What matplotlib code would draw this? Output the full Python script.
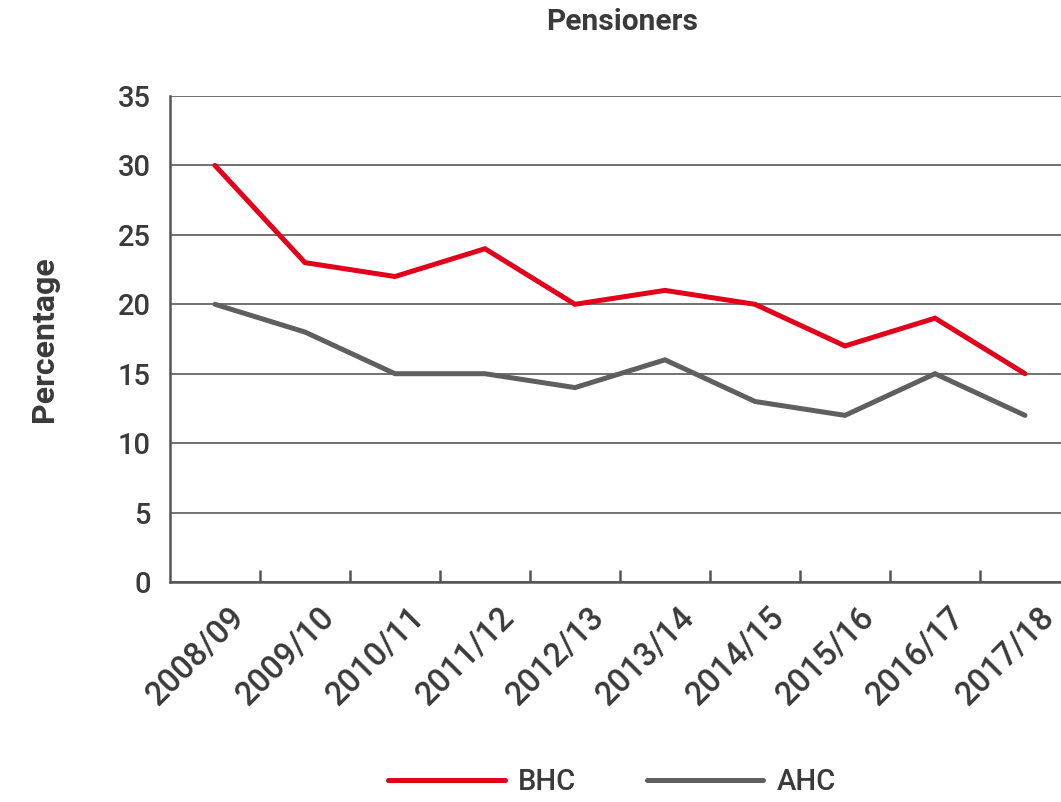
import matplotlib
matplotlib.use("Agg")
import matplotlib.pyplot as plt
import numpy as np

years = ["2008/09", "2009/10", "2010/11", "2011/12", "2012/13",
         "2013/14", "2014/15", "2015/16", "2016/17", "2017/18"]
bhc = [30, 23, 22, 24, 20, 21, 20, 17, 19, 15]
ahc = [20, 18, 15, 15, 14, 16, 13, 12, 15, 12]

plt.rcParams['font.family'] = ['Roboto', 'DejaVu Sans']
txt = '#3a3a3a'

fig = plt.figure(figsize=(10.61, 8.02), dpi=100)
ax = fig.add_axes([170/1061, 1-582/802, 900/1061, (582-96)/802])

x = np.arange(len(years))
l1, = ax.plot(x, bhc, color='#e2001a', lw=3.6, solid_capstyle='round', solid_joinstyle='miter', zorder=3)
l2, = ax.plot(x, ahc, color='#5f5f5f', lw=3.6, solid_capstyle='round', solid_joinstyle='miter', zorder=3)

ax.set_xlim(-0.5, len(years) - 0.5)
ax.set_ylim(0, 35)
ax.set_yticks(range(0, 36, 5))
ax.yaxis.grid(True, color='#4a4a4a', lw=1.1)
ax.set_axisbelow(True)
for s in ['top', 'right']:
    ax.spines[s].set_visible(False)
for s in ['left', 'bottom']:
    ax.spines[s].set_color('#555555')
    ax.spines[s].set_linewidth(1.8)

ax.tick_params(axis='y', length=0, pad=14, labelsize=21, labelcolor=txt)
for t in ax.get_yticklabels():
    t.set_fontweight('medium')
ax.set_xticks(np.arange(0.5, len(years) - 0.5, 1.0))
ax.set_xticklabels([])
ax.tick_params(axis='x', direction='in', length=9, width=1.8, color='#555555')
for i, yl in enumerate(years):
    ax.text(i + 0.15, -0.04, yl, transform=ax.get_xaxis_transform(),
            rotation=45, ha='right', va='top', rotation_mode='anchor',
            fontsize=23.5, fontweight='medium', color=txt)

ax.set_ylabel('Percentage', fontsize=23, fontweight='bold', color=txt, labelpad=42)
fig.text(622/1061, 1-22/802, 'Pensioners', ha='center', va='center',
         fontsize=21.5, fontweight='bold', color=txt)

leg = fig.legend([l1, l2], ['BHC', 'AHC'], loc='center', bbox_to_anchor=(612/1061, 1-782/802),
                 ncol=2, frameon=False, fontsize=21, handlelength=4.0, columnspacing=2.4,
                 handletextpad=0.45, labelcolor=txt)
for t in leg.get_texts():
    t.set_fontweight('medium')

fig.savefig('out.png', dpi=100)
